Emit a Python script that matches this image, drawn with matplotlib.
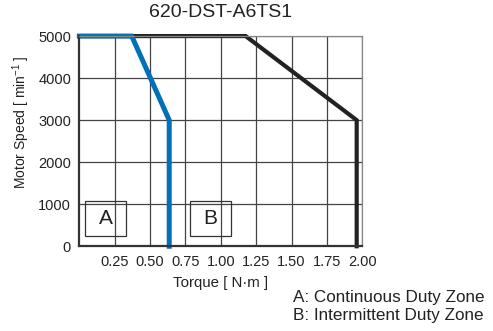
import matplotlib.pyplot as plt
from matplotlib.patches import Rectangle

plt.rcParams['font.family'] = ['Liberation Sans', 'DejaVu Sans']
plt.rcParams['mathtext.fontset'] = 'custom'
plt.rcParams['mathtext.rm'] = 'Liberation Sans'

# データ: トルク [N·m] と回転数 [min^-1]
cont_torque = [0.0, 0.37, 0.635, 0.635]
cont_speed = [5000, 5000, 3000, 0]
inter_torque = [0.0, 1.175, 1.96, 1.96]
inter_speed = [5000, 5000, 3000, 0]

x_ticks = [0.25, 0.50, 0.75, 1.00, 1.25, 1.50, 1.75, 2.00]
y_ticks = [0, 1000, 2000, 3000, 4000, 5000]

fig = plt.figure(figsize=(4.93, 3.31), dpi=100)
ax = fig.add_axes([0.161, 0.256, 0.574, 0.635])

ax.set_xlim(0, 2.0)
ax.set_ylim(0, 5000)
ax.set_xticks(x_ticks)
ax.set_xticklabels([f'{t:.2f}' for t in x_ticks])
ax.set_yticks(y_ticks)
ax.tick_params(length=0, labelsize=10.5, colors='#222222', pad=6)
ax.grid(True, color='#444444', linewidth=0.9)
ax.set_axisbelow(True)

for s in ['top', 'right']:
    ax.spines[s].set_color('#888888')
    ax.spines[s].set_linewidth(0.9)
for s in ['left', 'bottom']:
    ax.spines[s].set_color('#333333')
    ax.spines[s].set_linewidth(1.6)

ax.plot(inter_torque, inter_speed, color='#222222', linewidth=3.0, clip_on=False,
        solid_joinstyle='miter')
ax.plot(cont_torque, cont_speed, color='#0070b8', linewidth=3.6, clip_on=False,
        solid_joinstyle='miter')

# ゾーン A / B の枠
for x0, lab in [(0.042, 'A'), (0.779, 'B')]:
    ax.add_patch(Rectangle((x0, 252), 0.29, 832, fill=False,
                           edgecolor='#333333', linewidth=0.9, zorder=3))
    ax.text(x0 + 0.145, 668, lab, ha='center', va='center', fontsize=15,
            color='#222222', zorder=4)

ax.set_title('620-DST-A6TS1', fontsize=14, color='#222222', pad=14)
ax.set_xlabel('Torque [ N·m ]', fontsize=10.8, color='#222222', labelpad=5)
ax.set_ylabel(r'Motor Speed [ min$^{-1}$ ]', fontsize=10, color='#222222', va='center')
ax.yaxis.set_label_coords(-0.205, 0.59)

fig.text(0.594, 0.1, 'A: Continuous Duty Zone', fontsize=12.3, color='#222222', va='center')
fig.text(0.594, 0.048, 'B: Intermittent Duty Zone', fontsize=12.3, color='#222222', va='center')

fig.savefig('out.png', dpi=100)
